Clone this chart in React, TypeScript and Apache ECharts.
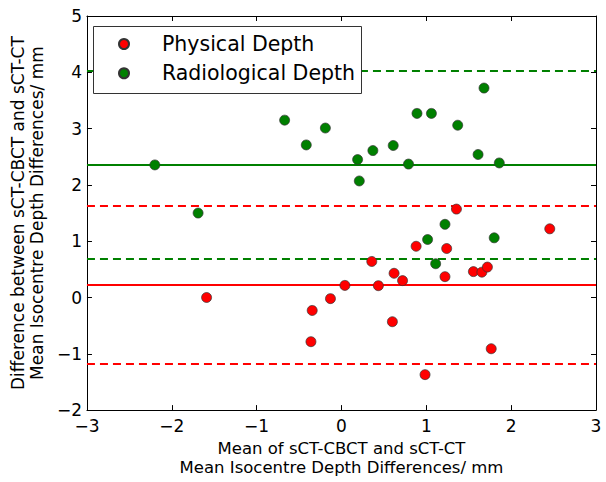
import React, { useEffect, useRef } from "react";
import * as echarts from "echarts";

const physicalX = [-1.59, -0.345, -0.36, -0.13, 0.04, 0.357, 0.435, 0.6, 0.62, 0.72, 0.88, 0.985, 1.22, 1.24, 1.355, 1.555, 1.655, 1.72, 1.765, 2.455];
const physicalY = [0.0, -0.23, -0.785, -0.02, 0.215, 0.64, 0.21, -0.43, 0.43, 0.3, 0.91, -1.37, 0.37, 0.87, 1.57, 0.46, 0.45, 0.54, -0.91, 1.22];

const radiologicalX = [-2.2, -1.69, -0.67, -0.415, -0.19, 0.19, 0.21, 0.37, 0.61, 0.79, 0.89, 1.06, 1.37, 1.61, 1.68, 1.86, 1.22, 1.015, 1.8, 1.11];
const radiologicalY = [2.355, 1.5, 3.15, 2.71, 3.01, 2.45, 2.07, 2.61, 2.7, 2.37, 3.27, 3.27, 3.06, 2.54, 3.72, 2.39, 1.3, 1.03, 1.06, 0.6];

const physicalMean = 0.226;
const physicalLimits = [1.626, -1.17];
const radiologicalMean = 2.36;
const radiologicalLimits = [4.03, 0.68];

const seriesNames = ["Physical Depth", "Radiological Depth"];
const xTitle = "Mean of sCT-CBCT and sCT-CT\nMean Isocentre Depth Differences/ mm";
const yTitle = "Difference between sCT-CBCT and sCT-CT\nMean Isocentre Depth Differences/ mm";

const RED = "#ff0000";
const GREEN = "#008000";
const FONT = "DejaVu Sans";

const minusFmt = (v: number) => String(v).replace("-", "\u2212");

function markLines(mean: number, limits: number[], color: string) {
  return {
    silent: true,
    z: 1,
    symbol: ["none", "none"],
    label: { show: false },
    animation: false,
    data: [
      { yAxis: mean, lineStyle: { color, width: 2, type: "solid" } },
      ...limits.map((v) => ({ yAxis: v, lineStyle: { color, width: 2, type: [8, 5] } })),
    ],
  };
}

export default function App() {
  const ref = useRef<HTMLDivElement>(null);
  useEffect(() => {
    if (!ref.current) return;
    const chart = echarts.init(ref.current, undefined, { renderer: "svg" });
    const axisCommon = {
      type: "value",
      splitLine: { show: false },
      axisLine: { show: true, onZero: false, lineStyle: { color: "#000", width: 1 } },
      axisTick: { show: true, inside: true, length: 5, lineStyle: { color: "#000", width: 1 } },
    };
    chart.setOption({
      animation: false,
      backgroundColor: "#fff",
      grid: { left: 83, right: 10, top: 16, bottom: 69, containLabel: false },
      graphic: [
        {
          type: "rect",
          z: 15,
          silent: true,
          shape: { x: 93.5, y: 26.5, width: 268, height: 67 },
          style: { fill: "#fff", stroke: "#333", lineWidth: 1 },
        },
      ],
      xAxis: [
        {
          ...axisCommon,
          min: -3,
          max: 3,
          interval: 1,
          position: "bottom",
          axisLabel: { show: true, margin: 7, color: "#000", fontFamily: FONT, fontSize: 17, formatter: minusFmt },
          name: xTitle,
          nameLocation: "middle",
          nameGap: 23,
          nameTextStyle: { color: "#000", fontFamily: FONT, fontSize: 16.5, lineHeight: 19 },
        },
        {
          ...axisCommon,
          min: -3,
          max: 3,
          interval: 1,
          position: "top",
          axisLabel: { show: false },
        },
      ],
      yAxis: [
        {
          ...axisCommon,
          min: -2,
          max: 5,
          interval: 1,
          position: "left",
          axisLabel: { show: true, margin: 5, color: "#000", fontFamily: FONT, fontSize: 17, formatter: minusFmt },
          name: yTitle,
          nameLocation: "middle",
          nameRotate: 90,
          nameGap: 26,
          nameTextStyle: { color: "#000", fontFamily: FONT, fontSize: 17, lineHeight: 19 },
        },
        {
          ...axisCommon,
          min: -2,
          max: 5,
          interval: 1,
          position: "right",
          axisLabel: { show: false },
        },
      ],
      legend: {
        orient: "vertical",
        z: 20,
        left: 118,
        top: 33,
        padding: 0,
        itemWidth: 66,
        itemHeight: 10,
        itemGap: 7.3,
        textStyle: { color: "#000", fontFamily: FONT, fontSize: 20.5, lineHeight: 22 },
        data: [
          { name: seriesNames[0], icon: "circle" },
          { name: seriesNames[1], icon: "circle" },
        ],
      },
      series: [
        {
          name: seriesNames[0],
          type: "scatter",
          xAxisIndex: 0,
          yAxisIndex: 0,
          symbol: "circle",
          symbolSize: 10,
          itemStyle: { color: RED, borderColor: "#333", borderWidth: 0.7, opacity: 1 },
          data: physicalX.map((x, i) => [x, physicalY[i]]),
          markLine: markLines(physicalMean, physicalLimits, RED),
          z: 2,
        },
        {
          name: seriesNames[1],
          type: "scatter",
          xAxisIndex: 0,
          yAxisIndex: 0,
          symbol: "circle",
          symbolSize: 10,
          itemStyle: { color: GREEN, borderColor: "#333", borderWidth: 0.7, opacity: 1 },
          data: radiologicalX.map((x, i) => [x, radiologicalY[i]]),
          markLine: markLines(radiologicalMean, radiologicalLimits, GREEN),
          z: 3,
        },
      ],
    });
    return () => chart.dispose();
  }, []);
  return (
    <div
      ref={ref}
      style={{ position: "fixed", left: 0, top: 0, width: 606, height: 482, background: "#fff" }}
    />
  );
}
